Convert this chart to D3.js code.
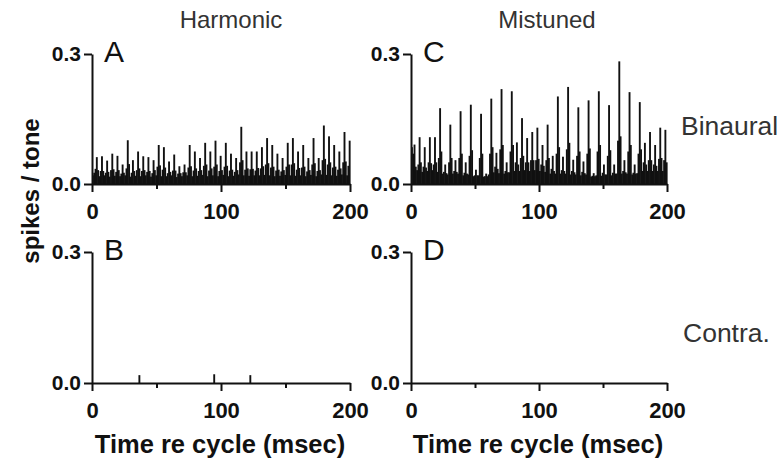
<!DOCTYPE html>
<html>
<head>
<meta charset="utf-8">
<script src="https://cdnjs.cloudflare.com/ajax/libs/d3/7.8.5/d3.min.js"></script>
<style>
  body { margin: 0; background: #fff; }
  text { font-family: "Liberation Sans", Arial, Helvetica, sans-serif; }
</style>
</head>
<body>
<div id="chart"></div>
<script>
"use strict";

/*
 * # Data (1 msec bins, spikes / tone)
 */
var binWidth = 1;

var harmonicBinaural = [
  0.02,0.026,0.035,0.062, 0.032,0.018,0.03,0.064, 0.03,0.02,0.026,0.054, 0.028,0.017,0.032,0.07, 0.034,0.019,0.028,0.065,
  0.032,0.018,0.024,0.045, 0.026,0.02,0.036,0.101, 0.046,0.017,0.026,0.055, 0.03,0.019,0.032,0.075, 0.036,0.018,0.03,0.064,
  0.032,0.02,0.028,0.062, 0.03,0.017,0.025,0.055, 0.032,0.02,0.04,0.09, 0.043,0.018,0.033,0.085, 0.038,0.018,0.025,0.052,
  0.028,0.02,0.031,0.068, 0.031,0.016,0.024,0.041, 0.025,0.018,0.027,0.045, 0.027,0.02,0.038,0.09, 0.041,0.018,0.031,0.075,
  0.036,0.019,0.03,0.06, 0.032,0.021,0.042,0.095, 0.045,0.018,0.031,0.075, 0.036,0.02,0.04,0.10, 0.045,0.018,0.03,0.065,
  0.032,0.021,0.04,0.095, 0.042,0.018,0.031,0.07, 0.033,0.019,0.028,0.06, 0.032,0.022,0.05,0.132, 0.055,0.02,0.033,0.075,
  0.036,0.019,0.034,0.075, 0.035,0.02,0.031,0.075, 0.037,0.02,0.036,0.085, 0.041,0.021,0.045,0.106, 0.048,0.02,0.038,0.09,
  0.04,0.018,0.031,0.07, 0.033,0.019,0.029,0.06, 0.032,0.021,0.04,0.095, 0.045,0.02,0.045,0.106, 0.048,0.019,0.033,0.075,
  0.037,0.02,0.038,0.09, 0.04,0.018,0.029,0.06, 0.032,0.021,0.045,0.106, 0.048,0.018,0.03,0.06, 0.032,0.022,0.055,0.135,
  0.058,0.021,0.045,0.11, 0.05,0.02,0.038,0.09, 0.04,0.019,0.033,0.075, 0.036,0.022,0.05,0.12, 0.052,0.02,0.042,0.10
];

var mistunedBinaural = [
  0.085,0.07,0.091,0.04, 0.032,0.045,0.108,0.05, 0.028,0.04,0.085,0.038, 0.03,0.05,0.108,0.048, 0.032,0.045,0.108,0.05,
  0.028,0.06,0.175,0.075, 0.024,0.028,0.045,0.025, 0.022,0.05,0.137,0.06, 0.024,0.03,0.055,0.028, 0.024,0.06,0.168,0.07,
  0.02,0.026,0.05,0.024, 0.022,0.065,0.183,0.078, 0.018,0.02,0.033,0.02, 0.02,0.06,0.162,0.07, 0.017,0.018,0.024,0.018,
  0.022,0.07,0.197,0.085, 0.027,0.04,0.072,0.035, 0.025,0.08,0.219,0.09, 0.024,0.03,0.05,0.027, 0.027,0.075,0.214,0.09,
  0.03,0.05,0.096,0.045, 0.03,0.06,0.152,0.065, 0.032,0.05,0.106,0.05, 0.03,0.055,0.12,0.055, 0.032,0.055,0.13,0.058,
  0.03,0.045,0.09,0.042, 0.028,0.055,0.137,0.06, 0.024,0.035,0.065,0.03, 0.024,0.07,0.202,0.085, 0.024,0.032,0.063,0.03,
  0.024,0.08,0.224,0.095, 0.022,0.03,0.056,0.027, 0.022,0.065,0.177,0.075, 0.02,0.028,0.052,0.025, 0.022,0.07,0.193,0.082,
  0.017,0.019,0.025,0.018, 0.02,0.075,0.214,0.09, 0.019,0.026,0.045,0.022, 0.022,0.065,0.182,0.078, 0.02,0.026,0.045,0.024,
  0.024,0.1,0.283,0.11, 0.024,0.03,0.055,0.027, 0.024,0.075,0.212,0.09, 0.022,0.026,0.045,0.024, 0.025,0.07,0.189,0.08,
  0.03,0.05,0.095,0.045, 0.03,0.055,0.12,0.055, 0.03,0.045,0.09,0.042, 0.03,0.058,0.13,0.06, 0.03,0.055,0.125,0.05
];

// contralateral responses are nearly empty: only the non-zero bins
var harmonicContraBins = [36, 94, 122];
var harmonicContraValues = [0.018, 0.02, 0.018];
var mistunedContraBins = [];
var mistunedContraValues = [];

var xTicks = [0, 100, 200];
var xMinorTicks = [50, 150];
var yTicks = [0, 0.3];
var columnTitles = ["Harmonic", "Mistuned"];
var rowTitles = ["Binaural", "Contra."];
var panelLetters = ["A", "B", "C", "D"];
var xTitle = "Time re cycle (msec)";
var yTitle = "spikes / tone";

/*
 * # Boilerplate
 */
var svg = d3.select("#chart")
            .append("svg")
            .attr("width", 780)
            .attr("height", 465);

var denseBins = function(values) {
  return values.map(function(v, i) { return { t: i * binWidth, v: v }; });
};
var sparseBins = function(bins, values) {
  return bins.map(function(b, i) { return { t: b * binWidth, v: values[i] }; });
};

var panels = [
  { letter: panelLetters[0], left: 92,  right: 350, top: 54,  bottom: 184, bins: denseBins(harmonicBinaural) },
  { letter: panelLetters[1], left: 92,  right: 350, top: 252, bottom: 383, bins: sparseBins(harmonicContraBins, harmonicContraValues) },
  { letter: panelLetters[2], left: 411, right: 667, top: 54,  bottom: 184, bins: denseBins(mistunedBinaural) },
  { letter: panelLetters[3], left: 411, right: 667, top: 252, bottom: 383, bins: sparseBins(mistunedContraBins, mistunedContraValues) }
];

/*
 * # Panels
 */
panels.forEach(function(p) {
  var x = d3.scaleLinear().domain([0, 200]).range([p.left, p.right]);
  var y = d3.scaleLinear().domain([0, 0.3]).range([p.bottom, p.top]);
  var g = svg.append("g");

  // histogram bars
  g.selectAll("rect")
   .data(p.bins)
   .enter()
   .append("rect")
   .attr("x", function(d) { return x(d.t); })
   .attr("width", function(d) { return x(d.t + binWidth) - x(d.t) + 0.6; })
   .attr("y", function(d) { return y(d.v); })
   .attr("height", function(d) { return y(0) - y(d.v); })
   .attr("fill", "#111");

  // minor x ticks
  g.append("g")
   .attr("transform", "translate(0," + p.bottom + ")")
   .call(d3.axisBottom(x).tickValues(xMinorTicks).tickSize(5).tickSizeOuter(0).tickFormat(""))
   .call(function(a) { a.select(".domain").remove(); });

  // major x axis
  var xa = g.append("g")
   .attr("transform", "translate(0," + p.bottom + ")")
   .call(d3.axisBottom(x).tickValues(xTicks).tickSize(8).tickSizeOuter(0).tickPadding(11));
  xa.selectAll("text")
    .style("font-size", "22px")
    .style("font-weight", "bold")
    .attr("fill", "#111");

  var ya = g.append("g")
   .attr("transform", "translate(" + p.left + ",0)")
   .call(d3.axisLeft(y).tickValues(yTicks).tickSize(8).tickSizeOuter(0).tickPadding(3).tickFormat(d3.format(".1f")));
  ya.selectAll("text")
    .style("font-size", "21px")
    .style("font-weight", "bold")
    .attr("fill", "#111");

  g.selectAll(".domain, .tick line")
   .attr("stroke", "#111")
   .attr("stroke-width", 2);

  g.append("text")
   .attr("x", p.left + 12)
   .attr("y", p.top + 8)
   .style("font-size", "30px")
   .attr("fill", "#111")
   .text(p.letter);
});

/*
 * # Titles
 */
svg.selectAll(".coltitle")
   .data(columnTitles)
   .enter()
   .append("text")
   .attr("x", function(d, i) { return i === 0 ? 231 : 547; })
   .attr("y", 28)
   .attr("text-anchor", "middle")
   .style("font-size", "24px")
   .attr("fill", "#333")
   .text(function(d) { return d; });

svg.selectAll(".rowtitle")
   .data(rowTitles)
   .enter()
   .append("text")
   .attr("x", function(d, i) { return i === 0 ? 681 : 683; })
   .attr("y", function(d, i) { return i === 0 ? 135 : 342; })
   .style("font-size", "26.5px")
   .attr("fill", "#333")
   .text(function(d) { return d; });

svg.selectAll(".xtitle")
   .data([220, 538])
   .enter()
   .append("text")
   .attr("x", function(d) { return d; })
   .attr("y", 453)
   .attr("text-anchor", "middle")
   .style("font-size", "25.5px")
   .style("font-weight", "bold")
   .attr("fill", "#111")
   .text(xTitle);

svg.append("text")
   .attr("transform", "translate(39,191) rotate(-90)")
   .attr("text-anchor", "middle")
   .style("font-size", "24px")
   .style("font-weight", "bold")
   .attr("fill", "#111")
   .text(yTitle);
</script>
</body>
</html>
